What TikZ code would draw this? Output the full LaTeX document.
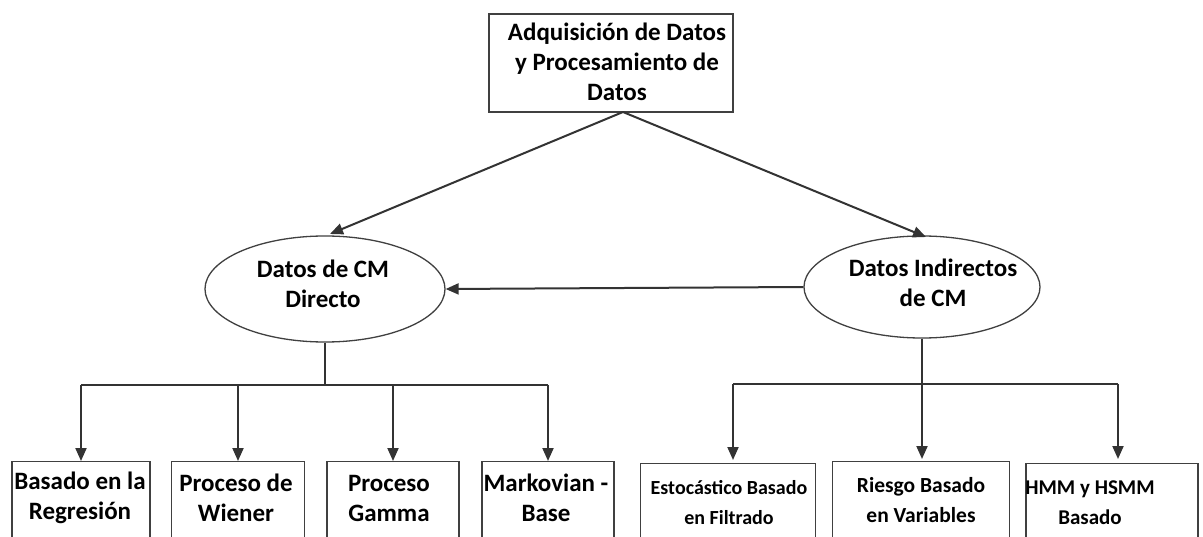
\documentclass[tikz,border=0pt]{standalone}
\usepackage{fontspec}
\setmainfont{Carlito}
\usetikzlibrary{arrows.meta,shapes.geometric}
\begin{document}
\begin{tikzpicture}[x=1pt,y=-1pt,
  lbl/.style={font=\bfseries\fontsize{25}{30}\selectfont, align=center, text=black},
  boxnode/.style={draw=black!75, line width=1.3pt, rectangle, inner sep=0pt},
  ovalnode/.style={draw=black!75, line width=1.3pt, ellipse, inner sep=0pt},
  conn/.style={draw=black!80, line width=2pt},
  arr/.style={conn, -{Triangle[length=13pt,width=11pt]}}
]
\useasboundingbox (0,0) rectangle (1203,537);
\fill[white] (0,0) rectangle (1203,537);

% top box
\node[boxnode, minimum width=244pt, minimum height=98pt] (top) at (611,63) {};
\node[lbl] (toptext) at (617,62) {Adquisición de Datos\\y Procesamiento de\\Datos};

% the two data-type ellipses
\node[ovalnode, minimum width=240pt, minimum height=106pt] (dir) at (325,289) {};
\node[lbl] at (323,284) {Datos de CM\\Directo};
\node[ovalnode, minimum width=236pt, minimum height=102pt] (ind) at (922,287) {};
\node[lbl] at (933,283) {Datos Indirectos\\de CM};

% arrows from the top box
\coordinate (tb) at (623,112);
\draw[arr] (tb) -- (330,234);
\draw[arr] (tb) -- (926,237);
\draw[arr] (ind.west) -- (dir.east);

% bottom boxes
\tikzset{bbox/.style={boxnode, minimum height=110pt, anchor=north}}
\node[bbox, minimum width=138pt] (b1) at (81,461) {};
\node[bbox, minimum width=133pt] (b2) at (238,461) {};
\node[bbox, minimum width=132pt] (b3) at (393,461) {};
\node[bbox, minimum width=132pt] (b4) at (548,461) {};
\node[bbox, minimum width=175pt] (b5) at (728,463) {};
\node[bbox, minimum width=177pt] (b6) at (921,461) {};
\node[bbox, minimum width=172pt] (b7) at (1112,463) {};

\node[lbl] at (80,498) {Basado en la\\Regresión};
\node[lbl] at (236,498) {Proceso de\\Wiener};
\node[lbl] at (389,498) {Proceso\\Gamma};
\node[lbl] at (546,498) {Markovian -\\Base};
\node[lbl, font=\bfseries\fontsize{20}{30}\selectfont] at (729,503) {Estocástico Basado\\en Filtrado};
\node[lbl, font=\bfseries\fontsize{21.5}{30}\selectfont] at (921,500) {Riesgo Basado\\en Variables};
\node[lbl, font=\bfseries\fontsize{21}{30}\selectfont] at (1090,503) {HMM y HSMM\\Basado};

% left tree
\coordinate (lj) at (325,385);
\draw[conn] (dir.south) -- (lj);
\draw[conn] (81,385) -- (548,385);
\foreach \b in {b1,b2,b3,b4}
  \draw[arr] (\b.north |- lj) -- (\b.north);

% right tree
\coordinate (rj) at (922,384);
\draw[conn] (ind.south) -- (rj);
\draw[conn] (733,384) -- (1118,384);
\draw[arr] (733,384) -- (733,460);
\draw[arr] (922,384) -- (922,459);
\draw[arr] (1118,384) -- (1118,459);
\end{tikzpicture}
\end{document}
